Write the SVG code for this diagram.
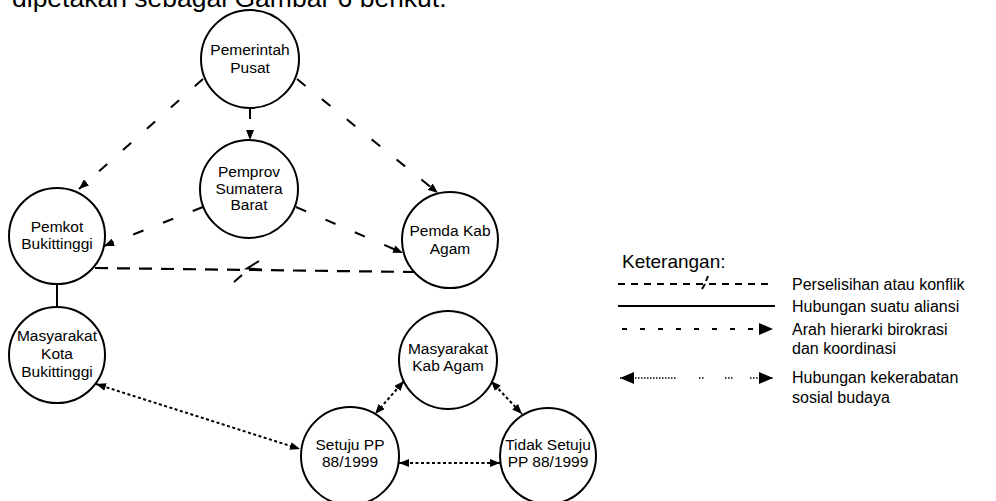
<svg xmlns="http://www.w3.org/2000/svg" width="996" height="501" viewBox="0 0 996 501">
<defs>
<style>
.node circle{fill:#fff;stroke:#000;stroke-width:2}
.node text{font-family:"Liberation Sans",Arial,sans-serif;font-size:15.5px;fill:#000;text-anchor:middle}
.hier{stroke:#000;stroke-width:2;fill:none;stroke-dasharray:11 21}
.conf{stroke:#000;stroke-width:2.2;fill:none;stroke-dasharray:13 9}
.ally{stroke:#000;stroke-width:2;fill:none}
.kin{stroke:#000;stroke-width:2;fill:none;stroke-dasharray:3 2.5}
.mark{stroke:#000;stroke-width:2;fill:none}
.lg{font-family:"Liberation Sans",Arial,sans-serif;font-size:16px;fill:#000}
</style>
<marker id="ah" viewBox="0 0 10 8" refX="10" refY="4" markerWidth="10" markerHeight="8" markerUnits="userSpaceOnUse" orient="auto-start-reverse"><path d="M0,0 L10,4 L0,8 z" fill="#000"/></marker>
<marker id="ahL" viewBox="0 0 14 12" refX="14" refY="6" markerWidth="14" markerHeight="12" markerUnits="userSpaceOnUse" orient="auto-start-reverse"><path d="M0,0 L14,6 L0,12 z" fill="#000"/></marker>
</defs>
<rect width="996" height="501" fill="#fff"/>
<text x="12" y="7" style="font-family:'Liberation Sans',Arial,sans-serif;font-size:26.5px">dipetakan sebagai Gambar 6 berikut.</text>

<g id="connectors">
<line class="hier" x1="250" y1="108" x2="250" y2="140" marker-end="url(#ah)"/>
<line class="hier" x1="203" y1="79" x2="79" y2="189" marker-end="url(#ah)"/>
<line class="hier" x1="297" y1="79" x2="438" y2="193" marker-end="url(#ah)"/>
<line class="hier" x1="203" y1="207" x2="104" y2="246" marker-end="url(#ah)"/>
<line class="hier" x1="296" y1="207" x2="403" y2="253" marker-end="url(#ah)"/>
<line class="conf" x1="95" y1="268" x2="414" y2="272"/>
<polyline class="mark" points="259,261 247,268.5 262,269.5"/>
<line class="mark" x1="242" y1="275" x2="234" y2="282"/>
<line class="ally" x1="57" y1="284" x2="57" y2="307"/>
<line class="kin" x1="96" y1="384" x2="300" y2="449" marker-start="url(#ah)" marker-end="url(#ah)"/>
<line class="kin" x1="404" y1="381" x2="375" y2="414" marker-start="url(#ah)" marker-end="url(#ah)"/>
<line class="kin" x1="491" y1="381" x2="522" y2="414" marker-start="url(#ah)" marker-end="url(#ah)"/>
<line class="kin" x1="399" y1="463" x2="500" y2="463" marker-start="url(#ah)" marker-end="url(#ah)"/>
</g>

<g id="pemerintah-pusat" class="node"><circle cx="250" cy="59" r="49"/><text x="250" y="55">Pemerintah</text><text x="250" y="73">Pusat</text></g>
<g id="pemprov" class="node"><circle cx="249" cy="189" r="49"/><text x="249" y="177">Pemprov</text><text x="249" y="194">Sumatera</text><text x="249" y="210">Barat</text></g>
<g id="pemkot" class="node"><circle cx="57" cy="236" r="48"/><text x="57" y="232">Pemkot</text><text x="57" y="249">Bukittinggi</text></g>
<g id="pemda-agam" class="node"><circle cx="450" cy="240" r="48"/><text x="450" y="236">Pemda Kab</text><text x="450" y="254">Agam</text></g>
<g id="masyarakat-kota" class="node"><circle cx="57" cy="355" r="48"/><text x="57" y="341">Masyarakat</text><text x="57" y="359">Kota</text><text x="57" y="377">Bukittinggi</text></g>
<g id="masyarakat-agam" class="node"><circle cx="448" cy="360" r="49"/><text x="448" y="354">Masyarakat</text><text x="448" y="371">Kab  Agam</text></g>
<g id="setuju" class="node"><circle cx="350" cy="456" r="49"/><text x="350" y="450">Setuju PP</text><text x="350" y="467">88/1999</text></g>
<g id="tidak-setuju" class="node"><circle cx="548" cy="456" r="48"/><text x="548" y="450">Tidak Setuju</text><text x="548" y="467">PP 88/1999</text></g>

<g id="legend">
<text x="622" y="268" style="font-family:'Liberation Sans',Arial,sans-serif;font-size:19px">Keterangan:</text>
<line x1="618" y1="284" x2="773" y2="284" stroke="#000" stroke-width="1.8" stroke-dasharray="7 6"/>
<line class="mark" x1="708" y1="276" x2="706" y2="281" stroke-width="1.5"/>
<line class="mark" x1="705" y1="284" x2="702" y2="289" stroke-width="1.5"/>
<text class="lg" x="792" y="290">Perselisihan atau konflik</text>
<line x1="618" y1="306" x2="775" y2="306" stroke="#000" stroke-width="2"/>
<text class="lg" x="792" y="312">Hubungan suatu aliansi</text>
<line x1="622" y1="329" x2="773" y2="329" stroke="#000" stroke-width="2" stroke-dasharray="5 13" marker-end="url(#ahL)"/>
<text class="lg" x="792" y="335">Arah hierarki birokrasi</text>
<text class="lg" x="792" y="354">dan koordinasi</text>
<line x1="620" y1="378" x2="676" y2="378" stroke="#000" stroke-width="1.6" stroke-dasharray="1.5 1.5" marker-start="url(#ahL)"/>
<line x1="699" y1="378" x2="704" y2="378" stroke="#000" stroke-width="1.6" stroke-dasharray="1.5 1.5"/>
<line x1="725" y1="378" x2="733" y2="378" stroke="#000" stroke-width="1.6" stroke-dasharray="1.5 1.5"/>
<line x1="750" y1="378" x2="773" y2="378" stroke="#000" stroke-width="1.6" stroke-dasharray="1.5 1.5" marker-end="url(#ahL)"/>
<text class="lg" x="792" y="383">Hubungan kekerabatan</text>
<text class="lg" x="792" y="403">sosial budaya</text>
</g>
</svg>
